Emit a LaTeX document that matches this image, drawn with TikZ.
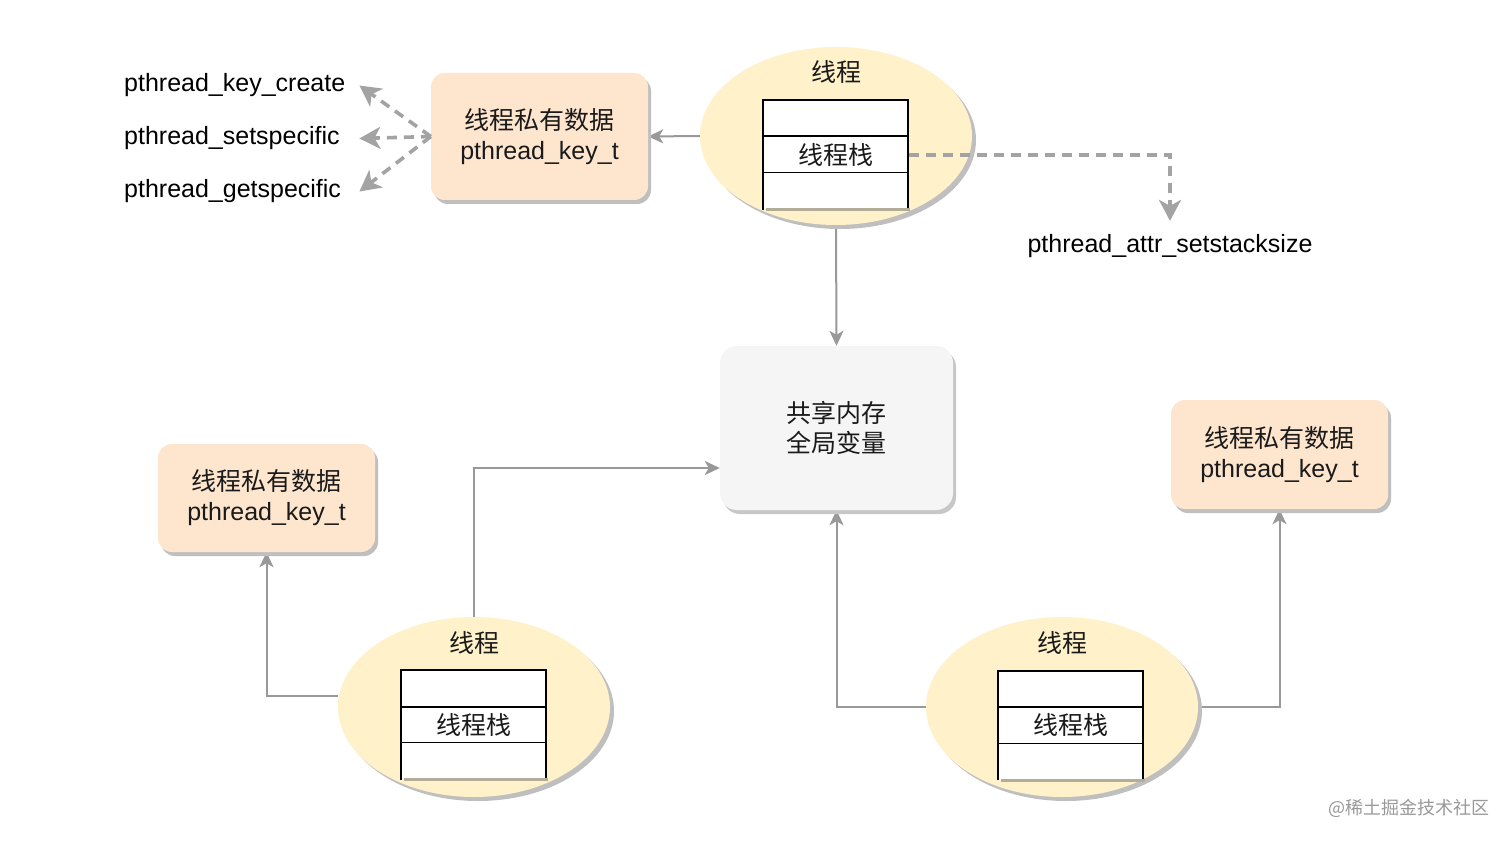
\documentclass[tikz,border=0pt]{standalone}
\usepackage{fontspec}
\setmainfont{Liberation Sans}
\newfontfamily\cjk{Noto Sans CJK SC}
\usetikzlibrary{shapes.geometric,shadows,arrows.meta,backgrounds}
\definecolor{ellfill}{HTML}{FFF1C9}
\definecolor{orfill}{HTML}{FDE5CE}
\definecolor{shfill}{HTML}{F5F5F5}
\definecolor{conncol}{HTML}{999999}
\definecolor{dashcol}{HTML}{A3A3A3}
\definecolor{txtcol}{HTML}{1A1A1A}
\definecolor{stkshadow}{HTML}{B3AC98}
\begin{document}
\begin{tikzpicture}[x=1pt,y=-1pt,
  every node/.style={font=\fontsize{25pt}{30pt}\selectfont, text=txtcol},
  thread/.style={ellipse, fill=ellfill, minimum width=272pt, minimum height=178pt, inner sep=0pt,
    drop shadow={shadow xshift=4pt, shadow yshift=-4pt, fill=black!25, opacity=1}},
  pbox/.style={rectangle, rounded corners=14pt, fill=orfill, align=center, inner sep=0pt,
    minimum width=217pt, drop shadow={shadow xshift=3pt, shadow yshift=-4pt, fill=black!25, opacity=1}},
  shbox/.style={rectangle, rounded corners=17pt, fill=shfill, align=center, inner sep=0pt,
    minimum width=233pt, minimum height=164pt, drop shadow={shadow xshift=3pt, shadow yshift=-4pt, fill=black!22, opacity=1}},
  srow/.style={rectangle, draw=black, line width=2pt, fill=white, minimum width=145pt, minimum height=36.5pt, inner sep=0pt},
  sbot/.style={rectangle, fill=white, minimum width=145pt, minimum height=36.5pt, inner sep=0pt},
  conn/.style={draw=conncol, line width=2pt, -{Stealth[length=15pt,width=14pt,inset=4pt]}},
  dconn/.style={draw=dashcol, line width=3.6pt, dash pattern=on 10pt off 7pt, -{Stealth[length=21pt,width=22pt,inset=6pt]}},
  fname/.style={inner ysep=0pt, inner xsep=11pt, text=black, text width=224pt, align=left, anchor=west}
]
\useasboundingbox (0,0) rectangle (1512,842);
\begin{scope}[on background layer]
\fill[white] (0,0) rectangle (1512,842);
\end{scope}

% boxes
\node[pbox, minimum height=127pt] (k1) at (539.5,136.5) {{\cjk 线程私有数据}\\pthread\_key\_t};
\node[pbox, minimum height=108pt] (b1) at (266.5,498) {{\cjk 线程私有数据}\\pthread\_key\_t};
\node[pbox, minimum height=109pt] (b2) at (1279.5,454.5) {{\cjk 线程私有数据}\\pthread\_key\_t};
\node[shbox] (sh) at (836.5,428) {{\cjk 共享内存}\\{\cjk 全局变量}};

% threads
\node[thread] (e1) at (836,136) {};
\node[thread, minimum height=180pt] (e2) at (474,707) {};
\node[thread, minimum height=180pt] (e3) at (1062,707) {};

\node (t1) at (836,72) {\cjk 线程};
\node (t2) at (474,643) {\cjk 线程};
\node (t3) at (1062,643) {\cjk 线程};

% stacks
\foreach \n/\cx/\ty in {s1/835.5/100, s2/473.5/670, s3/1070.5/670.5}{
  \node[srow] (\n a) at (\cx,\ty+18.25) {};
  \node[srow] (\n b) at (\cx,\ty+54.75) {\cjk 线程栈};
  \node[sbot] (\n c) at (\cx,\ty+91.25) {};
  \draw[black, line width=2pt] (\n c.north west) -- (\n c.south west);
  \draw[black, line width=2pt] (\n c.north east) -- (\n c.south east);
  \draw[stkshadow, line width=3pt] ([xshift=3pt]\n c.south west) -- ([xshift=2pt]\n c.south east);
}

% function labels
\node[fname] (f1) at (113,85.5) {pthread\_key\_create};
\node[fname] (f2) at (113,138.5) {pthread\_setspecific};
\node[fname] (f3) at (113,191.5) {pthread\_getspecific};
\node[text=black, inner xsep=0pt, inner ysep=13.75pt] (f4) at (1170,246.5) {pthread\_attr\_setstacksize};

% watermark
\node[font=\fontsize{18pt}{20pt}\selectfont, text=black!40] (wm) at (1409,808) {\cjk @稀土掘金技术社区};

\begin{scope}[on background layer]
  \draw[conn] (e1.west) -- (k1.east);
  \draw[conn] (e1.south) -- (sh.north);
  \draw[conn] (e2.north) |- ([yshift=-40pt]sh.west);
  \draw[conn] ([yshift=11pt]e2.west) -| (b1.south);
  \draw[conn] (e3.west) -| (sh.south);
  \draw[conn] (e3.east) -| (b2.south);
\end{scope}

\draw[dconn] (k1.west) -- (f1.east);
\draw[dconn] (k1.west) -- (f2.east);
\draw[dconn] (k1.west) -- (f3.east);
\draw[dconn] (s1b.east) -| (f4.north);
\end{tikzpicture}
\end{document}
